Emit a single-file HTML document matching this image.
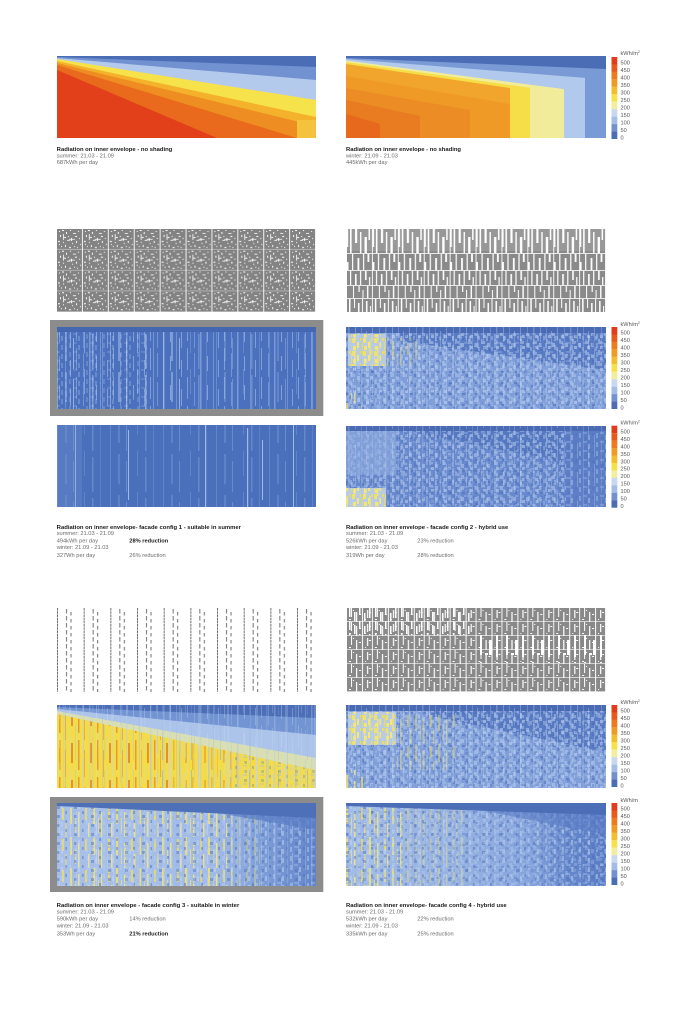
<!DOCTYPE html>
<html><head><meta charset="utf-8"><style>
html,body{margin:0;padding:0;background:#fff;}
svg{display:block;}
text{font-family:"Liberation Sans",Arial,sans-serif;}
</style></head><body>
<svg width="695" height="1024" viewBox="0 0 695 1024" xmlns="http://www.w3.org/2000/svg">
<defs>
<pattern id="sA" width="37" height="29" patternUnits="userSpaceOnUse">
<rect x="2" y="0" width="1" height="22" fill="#c4d5f2"/>
<rect x="9" y="5" width="1" height="24" fill="#a9c0ea"/>
<rect x="15" y="0" width="1.5" height="29" fill="#b5c9ee"/>
<rect x="22" y="8" width="1" height="15" fill="#d0def5"/>
<rect x="28" y="0" width="1" height="29" fill="#9db7e6"/>
<rect x="33" y="12" width="1" height="17" fill="#c4d5f2"/>
</pattern>
<pattern id="sB" width="53" height="41" patternUnits="userSpaceOnUse">
<rect x="4" y="0" width="1" height="41" fill="#b0c6ee"/>
<rect x="12" y="3" width="2" height="30" fill="#9fb8e6"/>
<rect x="20" y="10" width="1" height="31" fill="#c8d8f3"/>
<rect x="31" y="0" width="1" height="25" fill="#a6bde9"/>
<rect x="39" y="6" width="1.5" height="35" fill="#bcd0f0"/>
<rect x="47" y="0" width="1" height="41" fill="#95b0e3"/>
</pattern>
<pattern id="mA" width="13" height="11" patternUnits="userSpaceOnUse">
<rect x="0" y="0" width="4" height="3" fill="#a8c1ea"/>
<rect x="6" y="2" width="3" height="4" fill="#b9cdf0"/>
<rect x="10" y="6" width="2" height="4" fill="#9bb5e4"/>
<rect x="2" y="5" width="3" height="3" fill="#c5d6f2"/>
<rect x="7" y="8" width="3" height="2" fill="#4a6cb4"/>
<rect x="11" y="0" width="2" height="3" fill="#5476bd"/>
<rect x="0" y="9" width="2" height="2" fill="#b0c7ec"/>
</pattern>
<pattern id="mB" width="17" height="9" patternUnits="userSpaceOnUse">
<rect x="1" y="1" width="2" height="5" fill="#b4caee"/>
<rect x="5" y="0" width="4" height="2" fill="#9ab4e4"/>
<rect x="10" y="3" width="2" height="5" fill="#c2d4f1"/>
<rect x="14" y="1" width="2" height="3" fill="#4e70b8"/>
<rect x="6" y="5" width="3" height="3" fill="#5273ba"/>
</pattern>
<pattern id="yA" width="23" height="31" patternUnits="userSpaceOnUse">
<rect x="1" y="0" width="2" height="18" fill="#f0e46a"/>
<rect x="6" y="12" width="1" height="15" fill="#e8df80"/>
<rect x="9" y="6" width="1.5" height="25" fill="#f4e978"/>
<rect x="16" y="2" width="2" height="12" fill="#eddc5c"/>
<rect x="19" y="17" width="1.5" height="14" fill="#f2e680"/>
</pattern>
<pattern id="yB" width="11" height="13" patternUnits="userSpaceOnUse">
<rect x="0" y="0" width="3" height="5" fill="#efe26a"/>
<rect x="5" y="4" width="2" height="6" fill="#f3e77c"/>
<rect x="8" y="0" width="2" height="3" fill="#e9dc62"/>
<rect x="1" y="8" width="3" height="4" fill="#f1e575"/>
</pattern>
<pattern id="oA" width="19" height="37" patternUnits="userSpaceOnUse">
<rect x="2" y="0" width="1.5" height="30" fill="#e6952a"/>
<rect x="8" y="10" width="1" height="27" fill="#eaa83a"/>
<rect x="14" y="3" width="2" height="20" fill="#e28b27"/>
</pattern>
<pattern id="bA" width="29" height="45" patternUnits="userSpaceOnUse">
<rect x="5" y="0" width="1.5" height="45" fill="#a9c2ea"/>
<rect x="11" y="8" width="1" height="30" fill="#c9d6e0"/>
<rect x="17" y="5" width="1" height="35" fill="#8eaee3"/>
<rect x="24" y="0" width="2" height="45" fill="#c2d4f0"/>
</pattern>
<pattern id="p1" x="57" y="229" width="25.9" height="20.75" patternUnits="userSpaceOnUse">
<rect width="25.9" height="20.75" fill="#838383"/>
<g fill="#fff">
<rect x="25" y="0" width="0.9" height="20.75"/>
<rect x="0" y="20.15" width="25.9" height="0.6" opacity=".6"/>
<rect x="2" y="2" width="1" height="1"/><rect x="5" y="1" width="2" height="1"/><rect x="9" y="3" width="1" height="2"/>
<rect x="13" y="1" width="1" height="1"/><rect x="16" y="4" width="3" height="0.8"/><rect x="21" y="2" width="1" height="1"/>
<rect x="3" y="6" width="1" height="2"/><rect x="7" y="8" width="2" height="1"/><rect x="11" y="7" width="1" height="1"/>
<rect x="14" y="9" width="1" height="3"/><rect x="18" y="7" width="2" height="1"/><rect x="22" y="9" width="1" height="1"/>
<rect x="1" y="12" width="2" height="1"/><rect x="6" y="13" width="1" height="1"/><rect x="10" y="11" width="3" height="0.8"/>
<rect x="15" y="14" width="1" height="1"/><rect x="19" y="12" width="1" height="2"/><rect x="23" y="15" width="1" height="1"/>
<rect x="4" y="17" width="1" height="1"/><rect x="8" y="16" width="1" height="2"/><rect x="12" y="18" width="2" height="1"/>
<rect x="17" y="17" width="1" height="1"/><rect x="20" y="18" width="1" height="1"/><rect x="2" y="15" width="1" height="1"/>
<rect x="6" y="5" width="0.8" height="6"/><rect x="12" y="10" width="6" height="0.7"/>
</g>
</pattern>
<pattern id="p2" x="347" y="229" width="25.9" height="83" patternUnits="userSpaceOnUse">
<rect width="25.9" height="83" fill="#8a8a8a"/>
<g fill="#fff">
<rect x="25" y="0" width="0.9" height="83"/>
<rect x="0" y="24" width="25.9" height="0.8"/><rect x="0" y="41" width="25.9" height="0.8"/>
<rect x="0" y="56" width="25.9" height="0.8"/><rect x="0" y="69" width="25.9" height="0.8"/>
<rect x="3" y="0" width="1.6" height="24"/><rect x="8" y="0" width="2.2" height="14"/><rect x="13" y="3" width="1.4" height="21"/>
<rect x="17.5" y="8" width="2.4" height="16"/><rect x="21.5" y="0" width="1.5" height="11"/><rect x="0" y="0" width="1.2" height="18"/>
<rect x="5" y="25" width="1.2" height="16"/><rect x="10.5" y="29" width="1.8" height="12"/><rect x="16" y="25" width="1.2" height="16"/>
<rect x="20.5" y="25" width="1.8" height="8"/><rect x="0" y="33" width="1.5" height="8"/>
<rect x="3" y="42" width="1.2" height="14"/><rect x="8" y="45" width="1.6" height="11"/><rect x="13" y="42" width="1.2" height="14"/>
<rect x="18" y="42" width="1.6" height="9"/><rect x="22" y="48" width="1.2" height="8"/>
<rect x="6" y="57" width="1" height="12"/><rect x="11.5" y="57" width="1.2" height="6"/><rect x="15.5" y="61" width="1" height="8"/>
<rect x="20" y="57" width="1.4" height="12"/>
<rect x="2" y="70" width="1.5" height="13"/><rect x="7" y="70" width="1" height="9"/><rect x="11" y="74" width="1.5" height="9"/>
<rect x="15" y="70" width="1" height="13"/><rect x="19" y="72" width="1.5" height="11"/><rect x="23" y="77" width="1" height="6"/>
</g>
</pattern>
<pattern id="p3" x="57" y="608" width="26.67" height="84" patternUnits="userSpaceOnUse">
<line x1="0.5" y1="0" x2="0.5" y2="84" stroke="#6e6e6e" stroke-width="1" stroke-dasharray="2.6 0.6"/>
<line x1="9.5" y1="1" x2="9.5" y2="84" stroke="#6e6e6e" stroke-width="1" stroke-dasharray="4.5 2.5"/>
<line x1="14" y1="4" x2="14" y2="84" stroke="#6e6e6e" stroke-width="1" stroke-dasharray="3.5 3.5"/>
</pattern>
<pattern id="p4" x="347" y="608" width="25.9" height="14" patternUnits="userSpaceOnUse">
<rect width="25.9" height="14" fill="#898989"/>
<g fill="#fff">
<rect x="25" y="0" width="0.9" height="14"/><rect x="0" y="13.4" width="25.9" height="0.6"/>
<rect x="4" y="0" width="1" height="9"/><rect x="9" y="4" width="1.2" height="10"/><rect x="15" y="0" width="1" height="14"/>
<rect x="20" y="2" width="1.2" height="8"/><rect x="2" y="11" width="2" height="1"/><rect x="12" y="6" width="2" height="1"/>
<rect x="18" y="11" width="1" height="1"/><rect x="22" y="4" width="2" height="1"/><rect x="6" y="2" width="1" height="1"/>
</g>
</pattern>
<pattern id="p4b" x="347" y="608" width="26" height="27" patternUnits="userSpaceOnUse">
<g fill="#fff"><rect x="3" y="0" width="2" height="20"/><rect x="12" y="5" width="3" height="15"/><rect x="19" y="0" width="2" height="22"/><rect x="8" y="18" width="3" height="2"/></g>
</pattern>
<pattern id="p4c" x="347" y="608" width="26" height="13" patternUnits="userSpaceOnUse">
<g fill="#fff"><rect x="2" y="0" width="1.5" height="9"/><rect x="7" y="4" width="1.5" height="9"/><rect x="12" y="0" width="1.5" height="7"/><rect x="17" y="5" width="1.5" height="8"/><rect x="22" y="0" width="1.5" height="10"/></g>
</pattern>
<linearGradient id="g6" x1="0" y1="0" x2="1" y2="0">
<stop offset="0" stop-color="#a9c1e9"/><stop offset=".6" stop-color="#a3bce8"/><stop offset=".78" stop-color="#7f9fd8"/><stop offset="1" stop-color="#6384ca"/>
</linearGradient>
<linearGradient id="g8" x1="0" y1="0" x2="1" y2="0">
<stop offset="0" stop-color="#a3bce7"/><stop offset=".45" stop-color="#94b0e1"/><stop offset=".7" stop-color="#86a4dc"/><stop offset=".85" stop-color="#6688cc"/><stop offset="1" stop-color="#5a7cc5"/>
</linearGradient>
<g id="leg">
<rect x="611.5" y="0" width="5.8" height="7.5" fill="#e23c1a"/>
<rect x="611.5" y="7.45" width="5.8" height="7.5" fill="#e85a1b"/>
<rect x="611.5" y="14.9" width="5.8" height="7.5" fill="#ec7a1f"/>
<rect x="611.5" y="22.36" width="5.8" height="7.5" fill="#f09a24"/>
<rect x="611.5" y="29.82" width="5.8" height="7.5" fill="#f4bd2d"/>
<rect x="611.5" y="37.27" width="5.8" height="7.5" fill="#f7e04a"/>
<rect x="611.5" y="44.73" width="5.8" height="7.5" fill="#f1ee9e"/>
<rect x="611.5" y="52.18" width="5.8" height="7.5" fill="#c9d8ef"/>
<rect x="611.5" y="59.64" width="5.8" height="7.5" fill="#a3bde8"/>
<rect x="611.5" y="67.09" width="5.8" height="7.5" fill="#7191d1"/>
<rect x="611.5" y="74.55" width="5.8" height="7.45" fill="#4b6db5"/>
<g font-size="5.6" fill="#555" font-family="Liberation Sans, Arial, sans-serif">
<text x="620.5" y="7.7">500</text><text x="620.5" y="15.17">450</text><text x="620.5" y="22.64">400</text>
<text x="620.5" y="30.11">350</text><text x="620.5" y="37.58">300</text><text x="620.5" y="45.05">250</text>
<text x="620.5" y="52.52">200</text><text x="620.5" y="59.99">150</text><text x="620.5" y="67.46">100</text>
<text x="620.5" y="74.93">50</text><text x="620.5" y="82.4">0</text>
</g>
</g>
</defs>

<!-- ===== Top-left: summer no shading ===== -->
<rect x="57" y="56" width="259" height="82" fill="#e2401b"/>
<polygon points="57,56 316,56 316,138 217,138 57,70" fill="#e9691d"/>
<polygon points="57,56 316,56 316,138 297,138 57,65" fill="#ee8e22"/>
<polygon points="57,56 316,56 316,126 57,63" fill="#f4b22c"/>
<polygon points="57,56 316,56 316,117 57,61" fill="#f6e24a"/>
<rect x="297" y="120" width="19" height="18" fill="#f4c23c"/>
<polygon points="57,56 316,56 316,100 57,59" fill="#b4caec"/>
<polygon points="57,56 316,56 316,80 57,58" fill="#7191d1"/>
<polygon points="57,56 316,56 316,67 57,57" fill="#4a6db5"/>

<!-- ===== Top-right: winter no shading ===== -->
<rect x="346" y="56" width="260" height="82" fill="#f1a52c"/>
<polygon points="346,76 510,104 510,138 346,138" fill="#ef9a27"/>
<polygon points="346,88 470,110 470,138 346,138" fill="#ec8c24"/>
<polygon points="346,100 420,116 420,138 346,138" fill="#e97b20"/>
<polygon points="346,114 380,124 380,138 346,138" fill="#e6691d"/>
<polygon points="346,56 606,56 606,138 510,138 510,88 346,64" fill="#f6de48"/>
<polygon points="346,56 606,56 606,138 530,138 530,87.8 346,62" fill="#f1ec9a"/>
<polygon points="346,56 606,56 606,138 564,138 564,89.1 346,60.5" fill="#b1c9ec"/>
<polygon points="346,56 606,56 606,138 585,138 585,77.9 346,59" fill="#7a9ad6"/>
<polygon points="346,56 606,56 606,69 346,58" fill="#4a6db5"/>

<use href="#leg" transform="translate(0,57)"/>
<text x="620.5" y="55" font-size="5.6" fill="#555">kWh/m<tspan font-size="3.6" dy="-2">2</tspan></text>

<!-- text top -->
<g font-size="5.7" fill="#6a6a6a">
<text x="56.7" y="151.1" font-weight="bold" fill="#1a1a1a" textLength="115.6" lengthAdjust="spacingAndGlyphs">Radiation on inner envelope - no shading</text>
<text x="56.7" y="157.3">summer: 21.03 - 21.09</text>
<text x="56.7" y="163.8">687kWh per day</text>
<text x="346" y="151.1" font-weight="bold" fill="#1a1a1a" textLength="115" lengthAdjust="spacingAndGlyphs">Radiation on inner envelope - no shading</text>
<text x="346" y="157.3">winter: 21.09 - 21.03</text>
<text x="346" y="163.8">445kWh per day</text>
</g>

<!-- ===== Middle patterns ===== -->
<rect x="57" y="229" width="259" height="83" fill="url(#p1)"/>
<rect x="347" y="229" width="259" height="83" fill="url(#p2)"/>
<rect x="347" y="229" width="259" height="22" fill="#fff" opacity=".12"/>

<!-- H1 config1 summer with frame -->
<rect x="50" y="320" width="273.3" height="96" fill="#8c8c8c"/>
<rect x="57" y="327" width="259" height="82" fill="#4b71be"/>
<rect x="57" y="327" width="259" height="82" fill="url(#sA)" opacity=".45"/>
<rect x="57" y="327" width="130" height="82" fill="url(#sB)" opacity=".6"/>
<rect x="187" y="327" width="129" height="82" fill="url(#sB)" opacity=".3"/>
<rect x="57" y="327" width="90" height="82" fill="url(#mB)" opacity=".25"/>
<rect x="57" y="327" width="259" height="5" fill="#4566b0"/>

<!-- H3 config2 summer -->
<rect x="346" y="327" width="260" height="82" fill="#7f9ed9"/>
<polygon points="400,333 606,333 606,370 400,341" fill="#5a7cc4"/>
<rect x="346" y="327" width="260" height="82" fill="url(#mA)" opacity=".55"/>
<rect x="346" y="327" width="260" height="82" fill="url(#mB)" opacity=".4"/>
<rect x="348" y="334" width="38" height="32" fill="#b9cbe0"/>
<rect x="348" y="334" width="38" height="32" fill="url(#yB)"/>
<rect x="348" y="334" width="38" height="32" fill="url(#yA)" opacity=".7"/>
<rect x="386" y="338" width="34" height="28" fill="url(#yA)" opacity=".4"/>
<rect x="346" y="393" width="16" height="16" fill="url(#yA)" opacity=".7"/>
<rect x="346" y="327" width="260" height="6" fill="#4a6bb4"/>
<rect x="346" y="327" width="260" height="82" fill="url(#sA)" opacity=".35"/>
<use href="#leg" transform="translate(0,327)"/>
<text x="620.5" y="326" font-size="5.6" fill="#555">kWh/m<tspan font-size="3.6" dy="-2">2</tspan></text>

<!-- H2 config1 winter -->
<rect x="57" y="425" width="259" height="82" fill="#4a70bc"/>
<rect x="57" y="425" width="259" height="82" fill="url(#sB)" opacity=".25"/>
<g fill="#a0b9e7">
<rect x="75" y="425" width="1" height="82"/><rect x="128" y="430" width="1" height="70"/><rect x="205" y="425" width="1" height="82"/>
<rect x="247" y="428" width="1.2" height="79"/><rect x="262" y="440" width="1" height="60"/><rect x="293" y="425" width="1" height="82"/>
</g>
<rect x="57" y="425" width="25" height="82" fill="#7595d2" opacity=".3"/>

<!-- H4 config2 winter -->
<rect x="346" y="426" width="260" height="81" fill="#6889cd"/>
<polygon points="420,426 606,426 606,470 420,434" fill="#5679c2"/>
<rect x="560" y="426" width="46" height="81" fill="#5b7dc5" opacity=".8"/>
<rect x="346" y="426" width="220" height="81" fill="url(#mA)" opacity=".5"/>
<rect x="346" y="426" width="260" height="81" fill="url(#mB)" opacity=".4"/>
<rect x="346" y="430" width="50" height="45" fill="#93aee0" opacity=".6"/>
<rect x="346" y="488" width="40" height="19" fill="#b9cbe0"/>
<rect x="346" y="488" width="40" height="19" fill="url(#yB)"/>
<rect x="346" y="488" width="40" height="19" fill="url(#yA)" opacity=".7"/>
<rect x="346" y="426" width="260" height="5" fill="#4a6bb4"/>
<rect x="346" y="426" width="260" height="81" fill="url(#sA)" opacity=".3"/>
<use href="#leg" transform="translate(0,425.7)"/>
<text x="620.5" y="424.5" font-size="5.6" fill="#555">kWh/m<tspan font-size="3.6" dy="-2">2</tspan></text>

<!-- text middle -->
<g font-size="5.7" fill="#6a6a6a">
<text x="56.7" y="528.8" font-weight="bold" fill="#1a1a1a" textLength="184.3" lengthAdjust="spacingAndGlyphs">Radiation on inner envelope- facade config 1 - suitable in summer</text>
<text x="56.7" y="535.2">summer: 21.03 - 21.09</text>
<text x="56.7" y="542.6">494kWh per day</text>
<text x="129.3" y="542.6" font-weight="bold" fill="#1a1a1a">28% reduction</text>
<text x="56.7" y="549">winter: 21.09 - 21.03</text>
<text x="56.7" y="557">327Wh per day</text>
<text x="129.3" y="557">26% reduction</text>
<text x="346" y="528.8" font-weight="bold" fill="#1a1a1a" textLength="162.3" lengthAdjust="spacingAndGlyphs">Radiation on inner envelope - facade config 2 - hybrid use</text>
<text x="346" y="535.2">summer: 21.03 - 21.09</text>
<text x="346" y="542.6">526kWh per day</text>
<text x="417.3" y="542.6">23% reduction</text>
<text x="346" y="549">winter: 21.09 - 21.03</text>
<text x="346" y="557">319Wh per day</text>
<text x="417.3" y="557">28% reduction</text>
</g>

<!-- ===== Bottom patterns ===== -->
<rect x="57" y="608" width="259" height="84" fill="url(#p3)"/>
<rect x="347" y="608" width="259" height="84" fill="url(#p4)"/>
<rect x="480" y="635" width="126" height="28" fill="url(#p4b)"/>
<rect x="347" y="608" width="123" height="27" fill="url(#p4c)"/>

<!-- H5 config3 summer -->
<rect x="57" y="705" width="259" height="83" fill="#f3dc48"/>
<rect x="57" y="705" width="113" height="83" fill="url(#oA)" opacity=".9"/>
<rect x="170" y="705" width="70" height="83" fill="url(#oA)" opacity=".5"/>
<rect x="150" y="705" width="166" height="83" fill="url(#bA)" opacity=".5"/>
<rect x="230" y="705" width="86" height="83" fill="url(#mB)" opacity=".3"/>
<polygon points="57,705 316,705 316,770 57,714" fill="#d9dfb0"/>
<polygon points="57,705 316,705 316,758 57,711" fill="#acc4ea"/>
<polygon points="57,705 316,705 316,735 57,709" fill="#7394d2"/>
<polygon points="57,705 316,705 316,718 57,707" fill="#4b6eb6"/>
<rect x="57" y="705" width="259" height="83" fill="url(#sA)" opacity=".35"/>
<rect x="57" y="705" width="259" height="83" fill="url(#bA)" opacity=".25"/>

<!-- H7 config4 summer -->
<rect x="346" y="705" width="260" height="83" fill="#809fd9"/>
<polygon points="430,711 606,711 606,752 430,716" fill="#5a7cc4"/>
<rect x="346" y="705" width="260" height="83" fill="url(#mA)" opacity=".55"/>
<rect x="346" y="705" width="260" height="83" fill="url(#mB)" opacity=".4"/>
<rect x="348" y="712" width="48" height="33" fill="#b9cbe0"/>
<rect x="348" y="712" width="48" height="33" fill="url(#yB)"/>
<rect x="348" y="712" width="48" height="33" fill="url(#yA)" opacity=".7"/>
<rect x="396" y="715" width="60" height="55" fill="url(#yA)" opacity=".45"/>
<rect x="346" y="770" width="18" height="18" fill="url(#yA)" opacity=".8"/>
<rect x="346" y="705" width="260" height="6" fill="#4a6bb4"/>
<rect x="346" y="705" width="260" height="83" fill="url(#sA)" opacity=".35"/>
<use href="#leg" transform="translate(0,705)"/>
<text x="620.5" y="704" font-size="5.6" fill="#555">kWh/m<tspan font-size="3.6" dy="-2">2</tspan></text>

<!-- H6 config3 winter with frame -->
<rect x="50" y="797" width="273.3" height="95" fill="#8c8c8c"/>
<rect x="57" y="803" width="259" height="83" fill="url(#g6)"/>
<rect x="57" y="808" width="175" height="78" fill="url(#yA)" opacity=".85"/>
<rect x="232" y="808" width="30" height="78" fill="url(#yA)" opacity=".35"/>
<rect x="57" y="803" width="259" height="83" fill="url(#mB)" opacity=".5"/>
<rect x="57" y="803" width="259" height="83" fill="url(#sA)" opacity=".4"/>
<polygon points="200,803 316,803 316,830 200,810" fill="#5a7cc4" opacity=".7"/>
<polygon points="57,803 316,803 316,818 57,806" fill="#4e70b8"/>

<!-- H8 config4 winter -->
<rect x="346" y="803" width="260" height="83" fill="url(#g8)"/>
<rect x="346" y="808" width="60" height="78" fill="url(#yA)" opacity=".85"/>
<rect x="406" y="808" width="60" height="78" fill="url(#yA)" opacity=".4"/>
<rect x="346" y="803" width="260" height="83" fill="url(#mB)" opacity=".5"/>
<rect x="346" y="803" width="260" height="83" fill="url(#mA)" opacity=".3"/>
<polygon points="480,803 606,803 606,835 480,810" fill="#5a7cc4" opacity=".6"/>
<polygon points="346,803 606,803 606,815 346,806" fill="#4c6eb7"/>
<use href="#leg" transform="translate(0,803)"/>
<text x="620.5" y="802" font-size="5.6" fill="#555">kWh/m</text>

<!-- text bottom -->
<g font-size="5.7" fill="#6a6a6a">
<text x="56.7" y="906.8" font-weight="bold" fill="#1a1a1a" textLength="182.6" lengthAdjust="spacingAndGlyphs">Radiation on inner envelope - facade config 3 - suitable in winter</text>
<text x="56.7" y="913.3">summer: 21.03 - 21.09</text>
<text x="56.7" y="920.7">590kWh per day</text>
<text x="129.3" y="920.7">14% reduction</text>
<text x="56.7" y="927.4">winter: 21.09 - 21.03</text>
<text x="56.7" y="935.4">353Wh per day</text>
<text x="129.3" y="935.4" font-weight="bold" fill="#1a1a1a">21% reduction</text>
<text x="346" y="906.8" font-weight="bold" fill="#1a1a1a" textLength="160.7" lengthAdjust="spacingAndGlyphs">Radiation on inner envelope- facade config 4 - hybrid use</text>
<text x="346" y="913.3">summer: 21.03 - 21.09</text>
<text x="346" y="920.7">532kWh per day</text>
<text x="417.3" y="920.7">22% reduction</text>
<text x="346" y="927.4">winter: 21.09 - 21.03</text>
<text x="346" y="935.4">335kWh per day</text>
<text x="417.3" y="935.4">25% reduction</text>
</g>
</svg>
</body></html>
